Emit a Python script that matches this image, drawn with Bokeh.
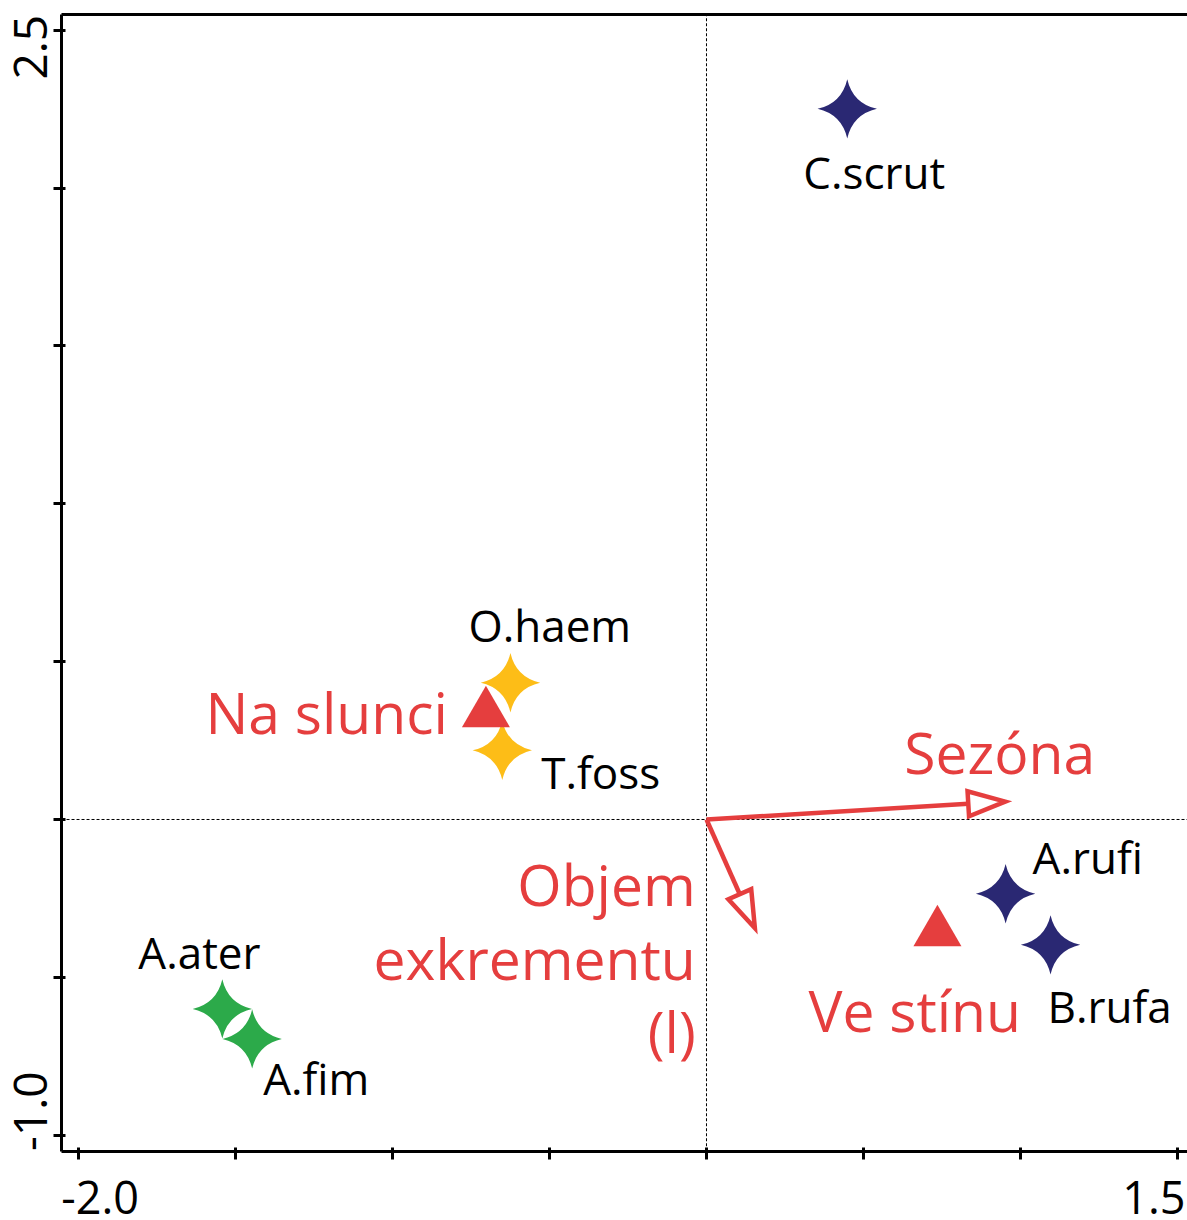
import math
from bokeh.plotting import figure
from bokeh.models import Range1d, LinearAxis, FixedTicker, ColumnDataSource
from bokeh.core.properties import value
from bokeh.embed import file_html
from bokeh.resources import INLINE

# ---------------- data ----------------
species = ["C.scrut", "O.haem", "T.foss", "A.rufi", "B.rufa", "A.ater", "A.fim"]
sp_x = [0.448, -0.624, -0.650, 0.952, 1.095, -1.541, -1.446]
sp_y = [2.251, 0.433, 0.219, -0.235, -0.397, -0.600, -0.695]
sp_group = ["shade", "sun", "sun", "shade", "shade", "dung", "dung"]

samples = ["Na slunci", "Ve stínu"]
smp_x = [-0.702, 0.735]
smp_y = [0.336, -0.358]

env_vars = ["Sezóna", "Objem exkrementu (l)"]
env_x = [0.973, 0.163]
env_y = [0.058, -0.364]

x_ticks = [-2.0, -1.5, -1.0, -0.5, 0.0, 0.5, 1.0, 1.5]
y_ticks = [-1.0, -0.5, 0.0, 0.5, 1.0, 1.5, 2.0, 2.5]
x_label_vals = [-2.0, 1.5]
x_label_txt = ["-2.0", "1.5"]
y_label_vals = [2.5, -1.0]
y_label_txt = ["2.5", "-1.0"]

# ---------------- styles ----------------
RED = "#E53E3E"
group_colors = {"shade": "#2A2873", "sun": "#FDBD17", "dung": "#2CAA4A"}
FONT = "Open Sans"
W, H = 1187, 1220

sp_offsets = {
    "C.scrut": (-44, 63), "O.haem": (-42, -58), "T.foss": (39, 22),
    "A.rufi": (27, -37), "B.rufa": (-3, 61), "A.ater": (-84, -57), "A.fim": (11, 39),
}

# visible ranges (whole canvas) and the axis box inside them
XS, XE = -2.2470, 1.5309
YS, YE = -1.2702, 2.5942
BX0 = -2.0528                 # left axis position
BY0, BY1 = -1.0508, 2.5507    # bottom / top axis positions
PX_X = W / (XE - XS)          # pixels per data unit
PX_Y = H / (YE - YS)

p = figure(width=W, height=H, x_range=Range1d(XS, XE), y_range=Range1d(YS, YE),
           output_backend="svg", toolbar_location=None,
           x_axis_location=None, y_axis_location=None, min_border=0)
p.xgrid.visible = False
p.ygrid.visible = False
p.outline_line_color = None
p.background_fill_color = "white"
p.border_fill_color = "white"


def make_axis(loc, bounds, ticks):
    return LinearAxis(fixed_location=loc, bounds=bounds, ticker=FixedTicker(ticks=ticks),
                      axis_line_width=3, axis_line_color="black",
                      major_tick_line_width=3, major_tick_line_color="black",
                      major_tick_out=8 if ticks else 0, major_tick_in=4 if ticks else 0,
                      minor_tick_line_color=None, major_label_standoff=0,
                      major_label_overrides={t: "" for t in ticks})


p.add_layout(make_axis(BY0, (BX0, XE), x_ticks), "below")
p.add_layout(make_axis(BX0, (BY0, BY1), y_ticks), "left")
p.add_layout(make_axis(BY1, (BX0, XE), []), "above")

# zero lines
p.segment(x0=[0, BX0], y0=[BY0, 0], x1=[0, XE], y1=[BY1, 0],
          line_color="black", line_width=1, line_dash="3 2")

# environmental arrows: shaft + open (white) triangular head, built from the arrow ends
shaft_x1, shaft_y1, head_xs, head_ys = [], [], [], []
for ex, ey in zip(env_x, env_y):
    tx, ty = ex * PX_X, ey * PX_Y
    L = math.hypot(tx, ty)
    ux, uy = tx / L, ty / L
    nx, ny = -uy, ux
    tip = (tx - 7 * ux, ty - 7 * uy)
    base = (tx - 44 * ux, ty - 44 * uy)
    hw = 12.5
    pts = [tip, (base[0] + hw * nx, base[1] + hw * ny), (base[0] - hw * nx, base[1] - hw * ny)]
    head_xs.append([q[0] / PX_X for q in pts])
    head_ys.append([q[1] / PX_Y for q in pts])
    shaft_x1.append(base[0] / PX_X)
    shaft_y1.append(base[1] / PX_Y)
p.segment(x0=[0] * len(env_x), y0=[0] * len(env_y), x1=shaft_x1, y1=shaft_y1,
          line_color=RED, line_width=4.5)
p.patches(head_xs, head_ys, fill_color="white", line_color=RED, line_width=4.5,
          line_join="miter")

# species stars
src = ColumnDataSource(dict(x=sp_x, y=sp_y, name=species,
                            color=[group_colors[g] for g in sp_group],
                            dx=[sp_offsets[s][0] for s in species],
                            dy=[sp_offsets[s][1] for s in species]))
p.scatter("x", "y", source=src, marker="square_pin", size=42, angle=math.pi / 4,
          fill_color="color", line_color=None)
p.text("x", "y", text="name", source=src, x_offset="dx", y_offset="dy",
       text_font=value(FONT), text_font_size="44px", text_color="black",
       text_align="left", text_baseline="alphabetic")

# sample triangles
p.scatter(smp_x, smp_y, marker="triangle", size=48, fill_color=RED, line_color=None)
p.text([smp_x[0]], [smp_y[0]], text=[samples[0]], x_offset=-38, y_offset=-1,
       text_font=value(FONT), text_font_size="57px", text_color=RED,
       text_align="right", text_baseline="alphabetic")
p.text([smp_x[1]], [smp_y[1]], text=[samples[1]], x_offset=-129, y_offset=77,
       text_font=value(FONT), text_font_size="57px", text_color=RED,
       text_align="left", text_baseline="alphabetic")

# env labels
p.text([env_x[0]], [env_y[0]], text=[env_vars[0]], x_offset=-108, y_offset=-49,
       text_font=value(FONT), text_font_size="57px", text_color=RED,
       text_align="left", text_baseline="alphabetic")
obj_lines = ["Objem", "exkrementu", "(l)"]
for i, line in enumerate(obj_lines):
    p.text([env_x[1]], [env_y[1]], text=[line], x_offset=-62, y_offset=-50 + 73.5 * i,
           text_font=value(FONT), text_font_size="57px", text_color=RED,
           text_align="right", text_baseline="alphabetic")

# tick labels: only the end values, shifted inward as in the original
p.text(x=x_label_vals, y=[BY0, BY0], text=x_label_txt, x_offset=[22, -24], y_offset=[46, 46],
       text_font=value(FONT), text_font_size="45px", text_color="black",
       text_align="center", text_baseline="alphabetic")
p.text(x=[BX0, BX0], y=y_label_vals, text=y_label_txt, x_offset=[-31, -31], y_offset=[17, -24],
       angle=math.pi / 2, text_font=value(FONT), text_font_size="46px", text_color="black",
       text_align="center", text_baseline="alphabetic")

open("out.html", "w").write(file_html(p, INLINE))
